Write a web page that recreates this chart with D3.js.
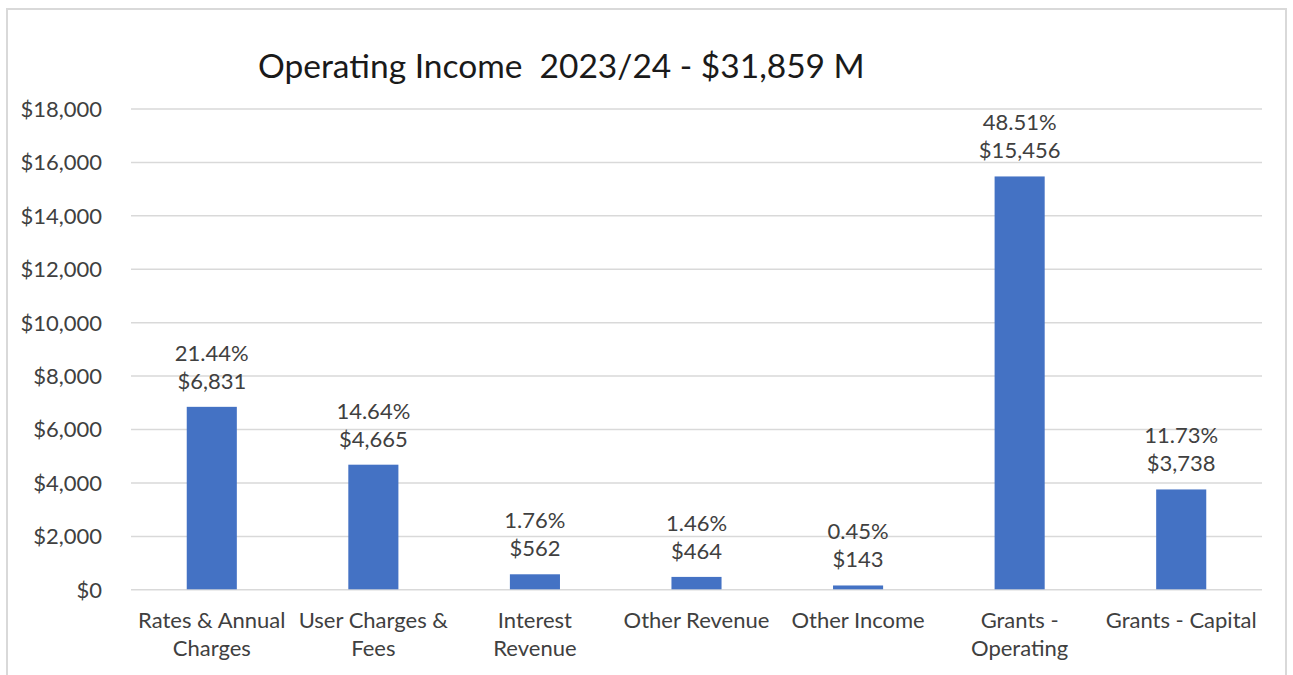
<!DOCTYPE html>
<html>
<head>
<meta charset="utf-8">
<script src="https://cdn.jsdelivr.net/npm/d3@7"></script>
<style>
  html, body { margin: 0; padding: 0; background: #fff; }
  svg { display: block; }
  text { font-family: Lato, "Noto Sans", sans-serif; }
</style>
</head>
<body>
<svg id="chart" width="1293" height="675"></svg>
<script>
// Operating income by source, 2023/24 ($ millions)
const categories = [
  ["Rates & Annual", "Charges"],
  ["User Charges &", "Fees"],
  ["Interest", "Revenue"],
  ["Other Revenue"],
  ["Other Income"],
  ["Grants -", "Operating"],
  ["Grants - Capital"]
];
const values = [6831, 4665, 562, 464, 143, 15456, 3738];
const shares = [21.44, 14.64, 1.76, 1.46, 0.45, 48.51, 11.73];
const yTicks = [0, 2000, 4000, 6000, 8000, 10000, 12000, 14000, 16000, 18000];
const titleText = "Operating Income  2023/24 - $31,859 M";

const svg = d3.select("#chart");
const W = 1293, H = 675;
const plot = { left: 131, right: 1262, top: 108.5, bottom: 589.3 };
const labelSize = "22px";

// chart frame
svg.append("rect")
  .attr("x", 7).attr("y", 9)
  .attr("width", 1279).attr("height", H + 20)
  .attr("fill", "#fff")
  .attr("stroke", "#d9d9d9")
  .attr("stroke-width", 2);

const x = d3.scaleBand()
  .domain(d3.range(categories.length))
  .range([plot.left, plot.right])
  .paddingInner(0.69)
  .paddingOuter(0.345);

const y = d3.scaleLinear()
  .domain([0, 18000])
  .range([plot.bottom, plot.top]);

const money = d3.format(",");

// horizontal gridlines + tick labels
const yAxis = d3.axisLeft(y)
  .tickValues(yTicks)
  .tickSize(-(plot.right - plot.left))
  .tickPadding(29)
  .tickFormat(d => "$" + money(d));

const gy = svg.append("g")
  .attr("transform", `translate(${plot.left},0)`)
  .call(yAxis);
gy.select(".domain").remove();
gy.selectAll(".tick line")
  .attr("stroke", "#d9d9d9")
  .attr("stroke-width", 1.5);
gy.selectAll(".tick text")
  .attr("fill", "#404040")
  .style("font-size", labelSize)
  .attr("dy", "0.36em");

// bars
svg.append("g").selectAll("rect")
  .data(values)
  .join("rect")
  .attr("x", (d, i) => x(i))
  .attr("width", x.bandwidth())
  .attr("y", d => y(d))
  .attr("height", d => y(0) - y(d))
  .attr("fill", "#4472c4");

// value labels: share on top, amount below
const labels = svg.append("g")
  .attr("fill", "#404040")
  .style("font-size", labelSize)
  .attr("text-anchor", "middle");
labels.selectAll("text.share")
  .data(values)
  .join("text")
  .attr("class", "share")
  .attr("x", (d, i) => x(i) + x.bandwidth() / 2)
  .attr("y", d => y(d) - 46)
  .text((d, i) => shares[i].toFixed(2) + "%");
labels.selectAll("text.amount")
  .data(values)
  .join("text")
  .attr("class", "amount")
  .attr("x", (d, i) => x(i) + x.bandwidth() / 2)
  .attr("y", d => y(d) - 18)
  .text(d => "$" + money(d));

// category labels (wrapped)
const cat = svg.append("g")
  .attr("fill", "#404040")
  .style("font-size", labelSize)
  .attr("text-anchor", "middle");
categories.forEach((lines, i) => {
  const cx = x(i) + x.bandwidth() / 2;
  const t = cat.append("text")
    .attr("x", cx)
    .attr("y", 628);
  lines.forEach((ln, k) => {
    t.append("tspan")
      .attr("x", cx)
      .attr("dy", k === 0 ? 0 : 28)
      .text(ln);
  });
});

// title
svg.append("text")
  .attr("x", 258)
  .attr("y", 78)
  .attr("fill", "#1a1a1a")
  .style("font-size", "33.5px")
  .style("white-space", "pre")
  .attr("xml:space", "preserve")
  .text(titleText);
</script>
</body>
</html>
